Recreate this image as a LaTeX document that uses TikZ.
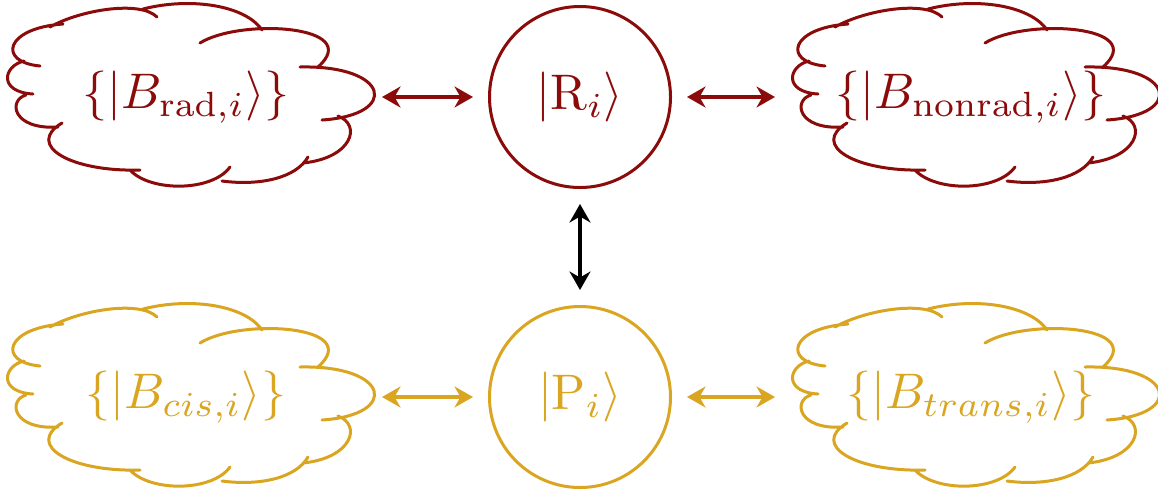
\documentclass[tikz,border=0pt]{standalone}
\usetikzlibrary{arrows.meta}
\definecolor{dred}{RGB}{139,10,10}
\definecolor{gold}{RGB}{218,165,32}
\begin{document}
\begin{tikzpicture}[x=0.2pt,y=-0.2pt,
  cloudline/.style={line width=0.6pt, line cap=round},
  state/.style={circle, draw, line width=0.6pt, minimum size=36.2pt, inner sep=0pt},
  bath/.style={minimum width=72pt, minimum height=36pt, inner sep=0pt},
  tipa/.tip={Stealth[length=3.7pt,width=4.2pt,inset=1.2pt]},
  link/.style={line width=0.9pt, tipa-tipa, shorten <=3pt, shorten >=3pt},
  cloudpic/.pic={
    \draw[cloudline]
      (63,24) .. controls (5,28) and (-3,62) .. (40,66)
      (24,61) .. controls (3,66) and (-2,92) .. (33,94)
      (26,95) .. controls (8,100) and (12,130) .. (58,127)
      (62,123) .. controls (25,145) and (70,172) .. (140,170)
      (130,170) .. controls (150,192) and (212,192) .. (230,167)
      (222,181) .. controls (260,186) and (296,178) .. (308,157)
      (338,116) .. controls (362,125) and (352,158) .. (303,163)
      (300,67) .. controls (390,65) and (400,115) .. (322,120)
      (200,43) .. controls (240,18) and (365,25) .. (318,67)
      (143,9) .. controls (190,-3) and (245,5) .. (262,30)
      (50,27) .. controls (80,10) and (140,0) .. (157,17);
  }
]
\useasboundingbox (0,0) rectangle (1158,495);

% clouds
\pic[color=dred] at (0,0) {cloudpic};
\pic[color=dred] at (785,0) {cloudpic};
\pic[color=gold] at (0,300) {cloudpic};
\pic[color=gold] at (785,300) {cloudpic};

% bath nodes
\node[bath, text=dred] (brad) at (186,97) {$\{|B_{\mathrm{rad},i}\rangle\}$};
\node[bath, text=dred] (bnonrad) at (971,97) {$\{|B_{\mathrm{nonrad},i}\rangle\}$};
\node[bath, text=gold] (bcis) at (186,397) {$\{|B_{cis,i}\rangle\}$};
\node[bath, text=gold] (btrans) at (971,397) {$\{|B_{trans,i}\rangle\}$};

% states
\node[state, draw=dred, text=dred] (R) at (580,97) {$|\mathrm{R}_i\rangle$};
\node[state, draw=gold, text=gold] (P) at (580,397) {$|\mathrm{P}_i\rangle$};

% connectors
\draw[link, dred] (brad.east) -- (R.west);
\draw[link, dred] (R.east) -- (bnonrad.west);
\draw[link, gold] (bcis.east) -- (P.west);
\draw[link, gold] (P.east) -- (btrans.west);
\draw[link, black] (R.south) -- (P.north);
\end{tikzpicture}
\end{document}
